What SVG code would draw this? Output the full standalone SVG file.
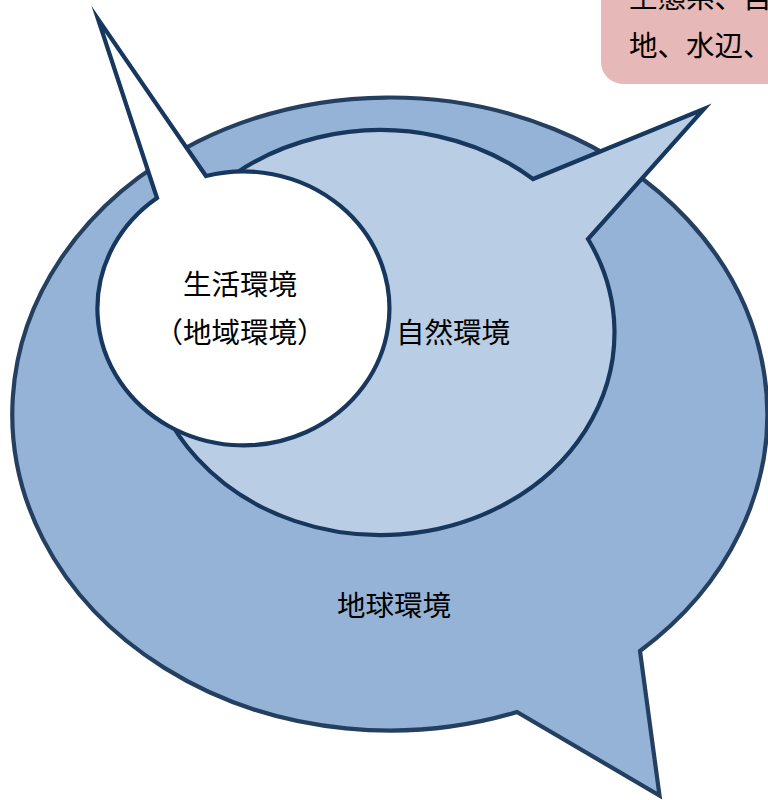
<svg xmlns="http://www.w3.org/2000/svg" width="768" height="800" viewBox="0 0 768 800">
<style>
.lbl{font-family:"Noto Sans CJK JP","Noto Sans CJK SC",sans-serif;font-size:28.5px;fill:#000;}
.mid{text-anchor:middle;}
.bubble{stroke-width:4.2;stroke-linejoin:miter;stroke-miterlimit:12;}
</style>
<rect width="768" height="800" fill="#fff"/>
<g id="note">
<rect x="601" y="-40" width="220" height="124" rx="22" ry="22" fill="#e6b8b7"/>
<text class="lbl" x="629" y="8">生態系、自</text>
<text class="lbl" x="629" y="56">地、水辺、</text>
</g>
<g id="earth">
<path class="bubble" d="M 517 712 A 377.5 316.5 0 1 1 640 651 L 659.5 795.5 Z" fill="#95b3d7" stroke="#243f60"/>
<text class="lbl mid" x="394" y="616">地球環境</text>
</g>
<g id="nature">
<path class="bubble" d="M 533 179 A 234 202.5 0 1 0 588 239 L 704 109 Z" fill="#b9cde5" stroke="#17375e"/>
<text class="lbl mid" x="453" y="343">自然環境</text>
</g>
<g id="living">
<path class="bubble" d="M 206 176 A 146 137 0 1 1 157 198 L 98 19 Z" fill="#ffffff" stroke="#17375e"/>
<text class="lbl mid" x="240" y="295">生活環境</text>
<text class="lbl mid" x="240" y="343">（地域環境）</text>
</g>
<g id="connectors"/>
</svg>
